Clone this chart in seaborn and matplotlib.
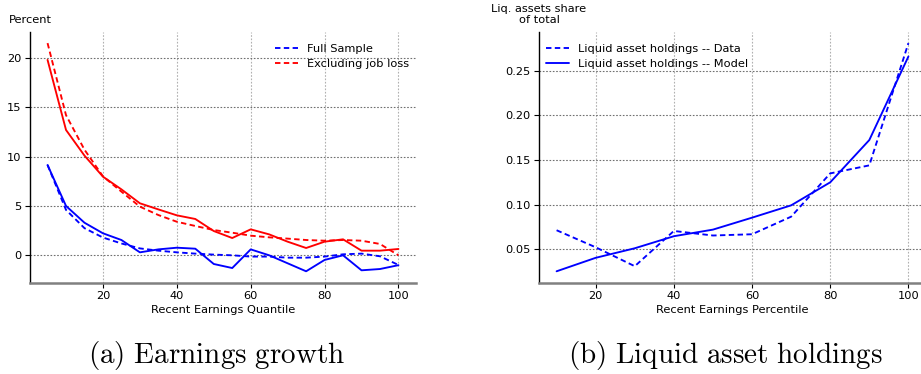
import numpy as np
import pandas as pd
import matplotlib
matplotlib.use("Agg")
import matplotlib.pyplot as plt
import seaborn as sns

# ---- data: panel (a) earnings growth ----
quantiles = [5, 10, 15, 20, 25, 30, 35, 40, 45, 50, 55, 60, 65, 70, 75, 80, 85, 90, 95, 100]
full_data = [9.15, 4.6, 2.75, 1.8, 1.2, 0.7, 0.47, 0.3, 0.17, 0.07, 0.0, -0.13, -0.13, -0.24, -0.24, -0.13, 0.1, 0.17, -0.1, -0.98]
full_model = [9.15, 5.0, 3.3, 2.23, 1.55, 0.3, 0.6, 0.77, 0.67, -0.88, -1.29, 0.6, 0.0, -0.81, -1.62, -0.47, 0.0, -1.52, -1.39, -1.0]
excl_data = [21.5, 14.2, 10.7, 8.0, 6.45, 4.93, 4.08, 3.4, 2.97, 2.56, 2.29, 1.99, 1.82, 1.69, 1.55, 1.48, 1.55, 1.48, 1.15, 0.0]
excl_model = [19.8, 12.7, 10.1, 7.97, 6.68, 5.27, 4.65, 4.05, 3.68, 2.46, 1.75, 2.63, 2.12, 1.38, 0.74, 1.38, 1.62, 0.47, 0.47, 0.64]

# ---- data: panel (b) liquid asset holdings ----
percentiles = [10, 20, 30, 40, 50, 60, 70, 80, 90, 100]
liq_data = [0.0713, 0.0522, 0.031, 0.0705, 0.0654, 0.0668, 0.0865, 0.135, 0.144, 0.281]
liq_model = [0.0253, 0.0404, 0.0511, 0.0646, 0.072, 0.0854, 0.0992, 0.125, 0.1724, 0.266]

sns.set_style("white")
plt.rcParams["font.family"] = ["DejaVu Sans"]
plt.rcParams["mathtext.fontset"] = "cm"
for k in ["text.color", "axes.labelcolor", "xtick.color", "ytick.color"]:
    plt.rcParams[k] = "black"

fig = plt.figure(figsize=(9.21, 3.74), dpi=100)
W, H = 921, 374
axL = fig.add_axes([30 / W, 1 - 282.7 / H, (416 - 30) / W, (282.7 - 31.7) / H])
axR = fig.add_axes([539 / W, 1 - 282.7 / H, (926 - 539) / W, (282.7 - 31.7) / H])

fs = 8.2
LW = 1.35
DASH = (0, (2.9, 1.8))

def style(ax):
    for s in ["top", "right"]:
        ax.spines[s].set_visible(False)
    ax.spines["left"].set_color("black")
    ax.spines["left"].set_linewidth(1.0)
    ax.spines["bottom"].set_color("#808080")
    ax.spines["bottom"].set_linewidth(1.8)
    ax.tick_params(axis="both", labelsize=fs, length=3.5, width=0.8, color="black",
                   labelcolor="black", left=True, bottom=True, pad=2.5)
    ax.grid(True, axis="y", linestyle=(0, (1.5, 1.5)), color="#707070", linewidth=0.8)
    ax.grid(True, axis="x", linestyle=(0, (1.5, 1.5)), color="#b0b0b0", linewidth=0.8)
    ax.set_axisbelow(True)

# panel (a)
dfa = pd.DataFrame({"q": quantiles, "fd": full_data, "fm": full_model,
                    "ed": excl_data, "em": excl_model})
sns.lineplot(data=dfa, x="q", y="fd", ax=axL, color="blue", linestyle=DASH,
             lw=LW, label="Full Sample")
sns.lineplot(data=dfa, x="q", y="ed", ax=axL, color="red", linestyle=DASH,
             lw=LW, label="Excluding job loss")
sns.lineplot(data=dfa, x="q", y="fm", ax=axL, color="blue", lw=LW, legend=False)
sns.lineplot(data=dfa, x="q", y="em", ax=axL, color="red", lw=LW, legend=False)
style(axL)
axL.set_xticks([20, 40, 60, 80, 100])
axL.set_yticks([0, 5, 10, 15, 20])
axL.set_xlabel("Recent Earnings Quantile", fontsize=fs, labelpad=3, color="black")
axL.set_ylabel("")
axL.annotate("Percent", xy=(0.0, 1.0), xycoords="axes fraction", xytext=(0, 4.5),
             textcoords="offset points", ha="center", va="bottom", fontsize=fs,
             color="black")
leg = axL.legend(loc="upper right", frameon=False, fontsize=fs, handlelength=2.0,
                 bbox_to_anchor=(1.0, 0.98), borderaxespad=0.2)
for t in leg.get_texts():
    t.set_color("black")

# panel (b)
dfb = pd.DataFrame({"p": percentiles, "d": liq_data, "m": liq_model})
sns.lineplot(data=dfb, x="p", y="d", ax=axR, color="blue", linestyle=DASH,
             lw=LW, label="Liquid asset holdings -- Data")
sns.lineplot(data=dfb, x="p", y="m", ax=axR, color="blue", lw=LW,
             label="Liquid asset holdings -- Model")
style(axR)
axR.set_xticks([20, 40, 60, 80, 100])
axR.set_yticks([0.05, 0.10, 0.15, 0.20, 0.25])
axR.set_yticklabels(["0.05", "0.10", "0.15", "0.20", "0.25"])
axR.set_xlabel("Recent Earnings Percentile", fontsize=fs, labelpad=3, color="black")
axR.set_ylabel("")
axR.annotate("Liq. assets share\nof total", xy=(0.0, 1.0), xycoords="axes fraction",
             xytext=(0, 4.5), textcoords="offset points", ha="center", va="bottom",
             fontsize=fs, multialignment="center", color="black")
leg = axR.legend(loc="upper left", frameon=False, fontsize=fs, handlelength=2.0,
                 bbox_to_anchor=(0.0, 0.98), borderaxespad=0.2)
for t in leg.get_texts():
    t.set_color("black")

# captions
fig.text(217 / W, 1 - 355 / H, r"$\mathrm{(a)\ Earnings\ growth}$", ha="center",
         va="center", fontsize=21, color="black")
fig.text(725 / W, 1 - 355 / H, r"$\mathrm{(b)\ Liquid\ asset\ holdings}$", ha="center",
         va="center", fontsize=21, color="black")

fig.savefig("out.png", dpi=100)
